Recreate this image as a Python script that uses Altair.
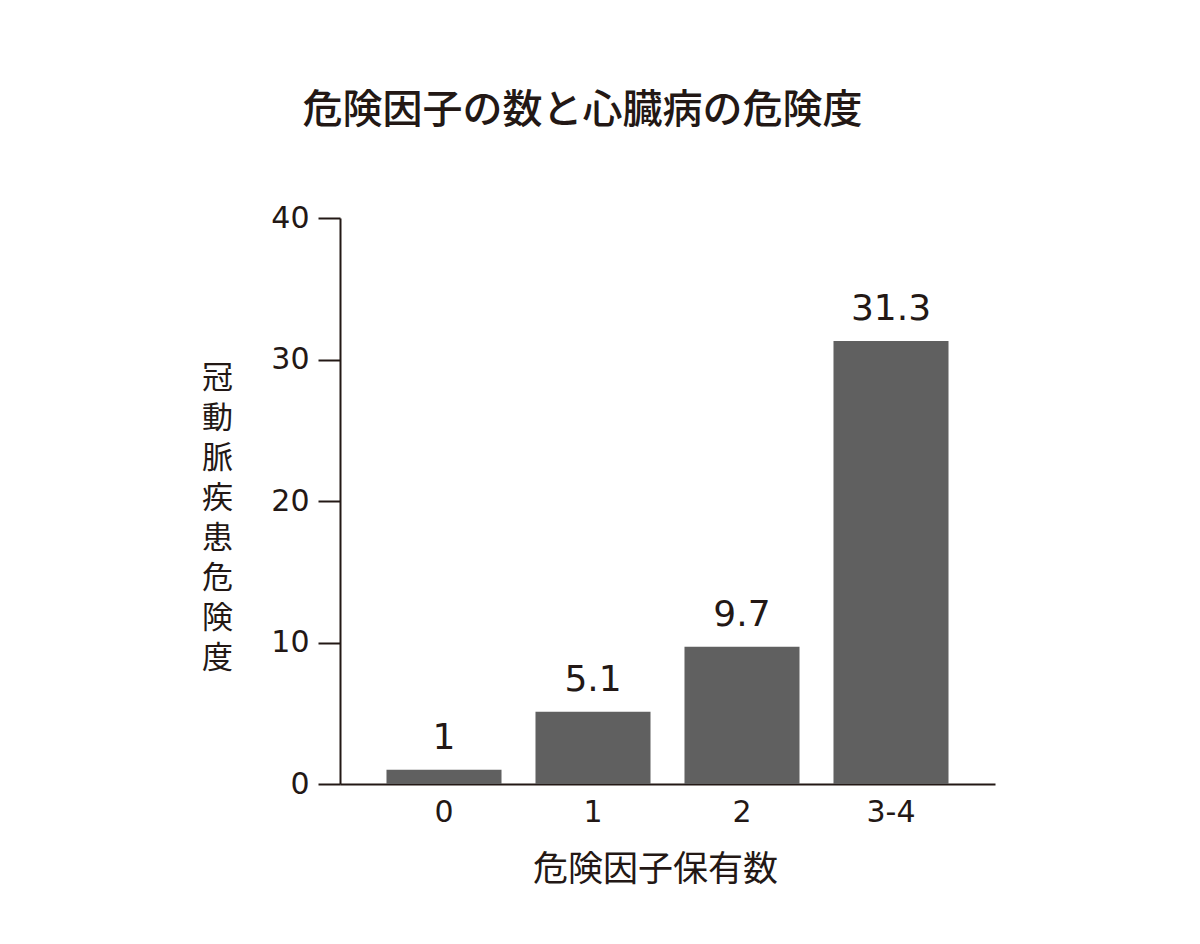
import altair as alt
import pandas as pd

categories = ["0", "1", "2", "3-4"]
values = [1, 5.1, 9.7, 31.3]
labels = ["1", "5.1", "9.7", "31.3"]

df = pd.DataFrame({"cat": categories, "val": values, "lab": labels})

INK = "#231815"
FONT = "Noto Sans CJK JP"
NUMFONT = "DejaVu Sans"

x_enc = alt.X(
    "cat:N",
    sort=categories,
    scale=alt.Scale(paddingInner=0.228, paddingOuter=0.312),
    axis=alt.Axis(
        title="危険因子保有数",
        titleFontSize=35,
        titleFont=FONT,
        titleFontWeight="normal",
        titleColor=INK,
        titleX=315,
        titleY=68,
        titleBaseline="top",
        titleAlign="center",
        labelAngle=0,
        labelFontSize=30,
        labelFont=NUMFONT,
        labelColor=INK,
        labelPadding=13,
        ticks=False,
        domainColor=INK,
        domainWidth=2,
    ),
)

y_enc = alt.Y(
    "val:Q",
    scale=alt.Scale(domain=[0, 40]),
    axis=alt.Axis(
        values=[0, 10, 20, 30, 40],
        title=list("冠動脈疾患危険度"),
        titleAngle=0,
        titleFontSize=31,
        titleFont=FONT,
        titleFontWeight="normal",
        titleColor=INK,
        titleLineHeight=40,
        titleX=-123,
        titleY=145,
        titleBaseline="top",
        titleAlign="center",
        labelFontSize=30,
        labelFont=NUMFONT,
        labelColor=INK,
        labelPadding=9,
        tickSize=22,
        tickWidth=2,
        tickColor=INK,
        domainColor=INK,
        domainWidth=2,
        grid=False,
    ),
)

bars = alt.Chart(df).mark_bar(color="#606060").encode(x=x_enc, y=y_enc)

text = alt.Chart(df).mark_text(
    dy=-21, baseline="alphabetic", fontSize=36, font=NUMFONT, color=INK
).encode(x=alt.X("cat:N", sort=categories), y=alt.Y("val:Q"), text="lab:N")

chart = (
    alt.layer(bars, text)
    .properties(
        width=655,
        height=566,
        background="white",
        autosize=alt.AutoSizeParams(type="none"),
        padding={"left": 332, "top": 210, "right": 190, "bottom": 150},
        title=alt.TitleParams(
            "危険因子の数と心臓病の危険度",
            fontSize=40,
            font=FONT,
            fontWeight=500,
            color=INK,
            anchor="middle",
            frame="group",
            dx=-85,
            offset=40,
            baseline="alphabetic",
        ),
    )
    .configure_view(strokeWidth=0)
)

chart.save("out.html", embed_options={"renderer": "svg", "actions": False})
